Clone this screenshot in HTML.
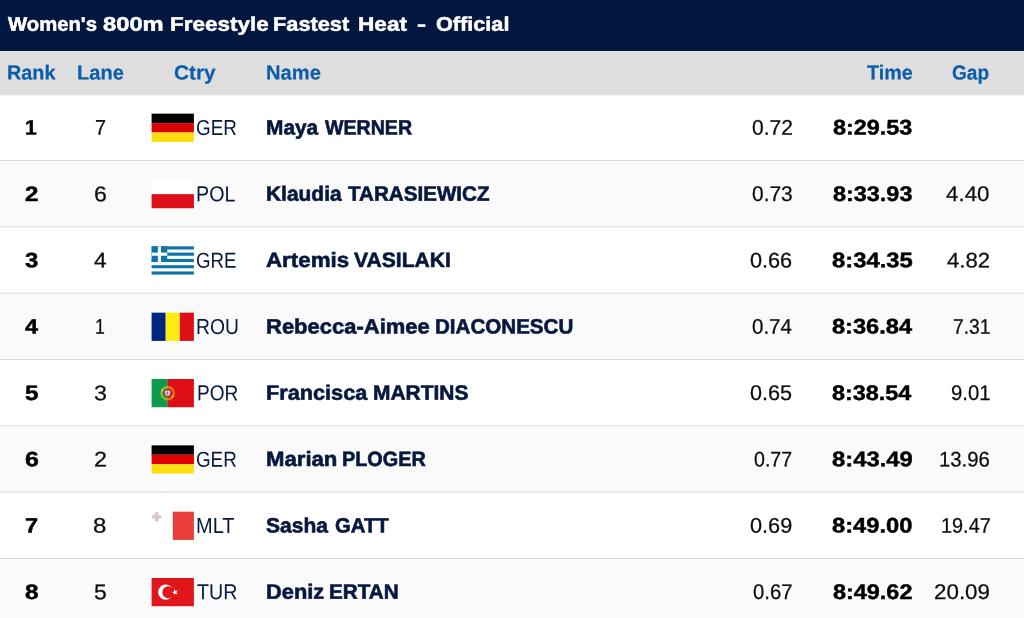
<!DOCTYPE html>
<html lang="en">
<head>
<meta charset="utf-8">
<title>Women's 800m Freestyle Fastest Heat - Official</title>
<style>
html,body{margin:0;padding:0;background:#fff}
body{width:1024px;height:618px;overflow:hidden;position:relative;font-family:"Liberation Sans",Arial,sans-serif}
#bg{position:absolute;left:0;top:0;display:block}
.t{position:absolute;white-space:pre;line-height:1;margin:0;padding:0;transform-origin:0 0}
.f{position:absolute;display:block;overflow:visible}
.b{font-weight:700}
</style>
</head>
<body>
<svg id="bg" width="1024" height="618" viewBox="0 0 1024 618"><rect width="1024" height="618" fill="#fff"/><rect width="1024" height="51.0" fill="#02173f"/><rect y="51.0" width="1024" height="44.40" fill="#dedede"/><rect y="161.00" width="1024" height="66.3333" fill="#fafafa"/><rect y="293.67" width="1024" height="66.3333" fill="#fafafa"/><rect y="426.34" width="1024" height="66.3333" fill="#fafafa"/><rect y="559.00" width="1024" height="66.3333" fill="#fafafa"/><rect y="160.00" width="1024" height="1" fill="#d8d8d8"/><rect y="226.34" width="1024" height="1" fill="#d8d8d8"/><rect y="292.67" width="1024" height="1" fill="#d8d8d8"/><rect y="359.00" width="1024" height="1" fill="#d8d8d8"/><rect y="425.34" width="1024" height="1" fill="#d8d8d8"/><rect y="491.67" width="1024" height="1" fill="#d8d8d8"/><rect y="558.00" width="1024" height="1" fill="#d8d8d8"/><rect y="624.34" width="1024" height="1" fill="#d8d8d8"/><g transform="translate(151.6,113.66)"><rect width="42.3" height="9.417" fill="#000"/><rect y="9.417" width="42.3" height="9.417" fill="#dd0000"/><rect y="18.833" width="42.3" height="9.417" fill="#ffde0f"/></g><g transform="translate(151.6,179.99)"><rect width="42.3" height="14.125" fill="#fff"/><rect y="14.125" width="42.3" height="14.125" fill="#dc0f19"/></g><g transform="translate(151.6,246.33)"><rect width="42.3" height="28.25" fill="#fff"/><rect y="0.000" width="42.3" height="3.139" fill="#0d73a8"/><rect y="6.278" width="42.3" height="3.139" fill="#0d73a8"/><rect y="12.556" width="42.3" height="3.139" fill="#0d73a8"/><rect y="18.833" width="42.3" height="3.139" fill="#0d73a8"/><rect y="25.111" width="42.3" height="3.139" fill="#0d73a8"/><rect width="15.694" height="15.694" fill="#0d73a8"/><rect x="6.278" width="3.139" height="15.694" fill="#fff"/><rect y="6.278" width="15.694" height="3.139" fill="#fff"/></g><g transform="translate(151.6,312.66)"><rect width="14.100" height="28.25" fill="#00267f"/><rect x="14.100" width="14.100" height="28.25" fill="#fcec10"/><rect x="28.200" width="14.100" height="28.25" fill="#de0f17"/></g><g transform="translate(151.6,378.99)"><rect width="16.2" height="28.25" fill="#0f9b4d"/><rect x="16.0" width="26.300" height="28.25" fill="#de0f17"/><circle cx="16.0" cy="14.225" r="6.2" fill="none" stroke="#f0c81e" stroke-opacity="0.55" stroke-width="2.3"/><circle cx="10.80" cy="11.32" r="0.9" fill="#ffe81a"/><circle cx="21.00" cy="17.43" r="0.9" fill="#ffe81a"/><path d="M12.3 10.43h7.4v3.2a3.7 4.3 0 0 1-7.4 0z" fill="#d9252c"/><path d="M13.6 11.72h4.8v2.0a2.4 3.0 0 0 1-4.8 0z" fill="#eef2fa"/><rect x="15.6" y="12.225" width="0.8" height="3.9" fill="#3f6fc2"/><rect x="14.4" y="13.725" width="3.2" height="0.8" fill="#3f6fc2"/></g><g transform="translate(151.6,445.33)"><rect width="42.3" height="9.417" fill="#000"/><rect y="9.417" width="42.3" height="9.417" fill="#dd0000"/><rect y="18.833" width="42.3" height="9.417" fill="#ffde0f"/></g><g transform="translate(151.6,511.66)"><rect x="21.2" width="21.100" height="28.25" fill="#e83e37"/><path d="M3.7 0.9h2.7v2.9h2.9v2.7h-2.9v2.9h-2.7v-2.9h-2.9v-2.7h2.9z" fill="#cfcfcf" stroke="#e7b5b5" stroke-width="0.6"/></g><g transform="translate(151.6,577.99)"><rect width="42.3" height="28.25" fill="#e0161a"/><circle cx="14.1" cy="14.225" r="7.6" fill="#fff"/><circle cx="16.7" cy="14.225" r="5.95" fill="#e0161a"/><polygon points="20.20,14.22 22.45,13.46 22.48,11.09 23.90,12.99 26.17,12.29 24.80,14.22 26.17,16.16 23.90,15.46 22.48,17.36 22.45,14.99" fill="#fff"/></g></svg>
<div id="t1" class="t b" style="left:8.35px;top:14px;font-size:19.82px;color:#fff;-webkit-text-stroke:0.5px #fff;transform:translateY(0.75px) matrix(1.0230,0.0005,0,1,0,0)">Women's</div>
<div id="t2" class="t b" style="left:102.86px;top:14px;font-size:19.82px;color:#fff;-webkit-text-stroke:0.5px #fff;transform:translateY(0.75px) matrix(1.1978,0.0005,0,1,0,0)">800m</div>
<div id="t3" class="t b" style="left:169.80px;top:14px;font-size:19.82px;color:#fff;-webkit-text-stroke:0.5px #fff;transform:translateY(0.75px) matrix(1.1334,0.0005,0,1,0,0)">Freestyle</div>
<div id="t4" class="t b" style="left:272.93px;top:14px;font-size:19.82px;color:#fff;-webkit-text-stroke:0.5px #fff;transform:translateY(0.75px) matrix(1.0984,0.0005,0,1,0,0)">Fastest</div>
<div id="t5" class="t b" style="left:357.67px;top:14px;font-size:19.82px;color:#fff;-webkit-text-stroke:0.5px #fff;transform:translateY(0.75px) matrix(1.1413,0.0005,0,1,0,0)">Heat</div>
<div id="t6" class="t b" style="left:417.44px;top:14px;font-size:19.82px;color:#fff;-webkit-text-stroke:0.5px #fff;transform:translateY(0.75px) matrix(1.3735,0.0005,0,1,0,0)">-</div>
<div id="t7" class="t b" style="left:435.75px;top:14px;font-size:19.82px;color:#fff;-webkit-text-stroke:0.5px #fff;transform:translateY(0.75px) matrix(1.0932,0.0005,0,1,0,0)">Official</div>
<div id="h1" class="t b" style="left:7.25px;top:62px;font-size:20.29px;color:#0b5cab;-webkit-text-stroke:0.2px #0b5cab;transform:translateY(0.58px) matrix(0.9766,0.0005,0,1,0,0)">Rank</div>
<div id="h2" class="t b" style="left:76.56px;top:62px;font-size:20.29px;color:#0b5cab;-webkit-text-stroke:0.2px #0b5cab;transform:translateY(0.58px) matrix(0.9884,0.0005,0,1,0,0)">Lane</div>
<div id="h3" class="t b" style="left:174.26px;top:62px;font-size:20.29px;color:#0b5cab;-webkit-text-stroke:0.2px #0b5cab;transform:translateY(0.58px) matrix(1.0267,0.0005,0,1,0,0)">Ctry</div>
<div id="h4" class="t b" style="left:266.19px;top:62px;font-size:20.29px;color:#0b5cab;-webkit-text-stroke:0.2px #0b5cab;transform:translateY(0.58px) matrix(0.9932,0.0005,0,1,0,0)">Name</div>
<div id="h5" class="t b" style="left:866.67px;top:62px;font-size:20.29px;color:#0b5cab;-webkit-text-stroke:0.2px #0b5cab;transform:translateY(0.58px) matrix(0.9743,0.0005,0,1,0,0)">Time</div>
<div id="h6" class="t b" style="left:952.08px;top:62px;font-size:20.29px;color:#0b5cab;-webkit-text-stroke:0.2px #0b5cab;transform:translateY(0.58px) matrix(0.9400,0.0005,0,1,0,0)">Gap</div>
<div id="r1k" class="t b" style="left:25.27px;top:117px;font-size:20.88px;color:#000;-webkit-text-stroke:0.45px #000;transform:translateY(0.55px) matrix(1.0077,0.0005,0,1,0,0)">1</div>
<div id="r1l" class="t" style="left:94.82px;top:117px;font-size:21.3px;color:#0d0d0d;-webkit-text-stroke:0.25px #0d0d0d;transform:translateY(0.87px) matrix(0.9273,0.0005,0,1,0,0)">7</div>
<div id="r1c" class="t" style="left:195.88px;top:117px;font-size:21.65px;color:#06183f;transform:translateY(0.03px) matrix(0.8692,0.0005,0,1,0,0)">GER</div>
<div id="r1n1" class="t b" style="left:265.58px;top:117px;font-size:20.73px;color:#06183f;-webkit-text-stroke:0.6px #06183f;transform:translateY(0.38px) matrix(1.0071,0.0005,0,1,0,0)">Maya</div>
<div id="r1n2" class="t b" style="left:325.31px;top:117px;font-size:20.73px;color:#06183f;-webkit-text-stroke:0.6px #06183f;transform:translateY(0.38px) matrix(0.9459,0.0005,0,1,0,0)">WERNER</div>
<div id="r1r" class="t" style="left:752.22px;top:117px;font-size:21.27px;color:#0d0d0d;-webkit-text-stroke:0.25px #0d0d0d;transform:translateY(0.77px) matrix(0.9869,0.0005,0,1,0,0)">0.72</div>
<div id="r1t" class="t b" style="left:833.00px;top:116px;font-size:21.05px;color:#000;-webkit-text-stroke:0.45px #000;transform:translateY(0.58px) matrix(1.1120,0.0005,0,1,0,0)">8:29.53</div>
<div id="r2k" class="t b" style="left:24.79px;top:183px;font-size:20.88px;color:#000;-webkit-text-stroke:0.45px #000;transform:translateY(0.89px) matrix(1.1513,0.0005,0,1,0,0)">2</div>
<div id="r2l" class="t" style="left:94.04px;top:184px;font-size:21.3px;color:#0d0d0d;-webkit-text-stroke:0.25px #0d0d0d;transform:translateY(0.20px) matrix(1.0830,0.0005,0,1,0,0)">6</div>
<div id="r2c" class="t" style="left:196.18px;top:183px;font-size:21.65px;color:#06183f;transform:translateY(0.36px) matrix(0.9104,0.0005,0,1,0,0)">POL</div>
<div id="r2n1" class="t b" style="left:265.75px;top:183px;font-size:20.73px;color:#06183f;-webkit-text-stroke:0.6px #06183f;transform:translateY(0.71px) matrix(1.0102,0.0005,0,1,0,0)">Klaudia</div>
<div id="r2n2" class="t b" style="left:347.95px;top:183px;font-size:20.73px;color:#06183f;-webkit-text-stroke:0.6px #06183f;transform:translateY(0.71px) matrix(0.9944,0.0005,0,1,0,0)">TARASIEWICZ</div>
<div id="r2r" class="t" style="left:752.35px;top:184px;font-size:21.27px;color:#0d0d0d;-webkit-text-stroke:0.25px #0d0d0d;transform:translateY(0.10px) matrix(0.9844,0.0005,0,1,0,0)">0.73</div>
<div id="r2t" class="t b" style="left:833.00px;top:182px;font-size:21.05px;color:#000;-webkit-text-stroke:0.45px #000;transform:translateY(0.91px) matrix(1.1124,0.0005,0,1,0,0)">8:33.93</div>
<div id="r2g" class="t" style="left:946.08px;top:183px;font-size:21.21px;color:#0d0d0d;-webkit-text-stroke:0.25px #0d0d0d;transform:translateY(0.09px) matrix(1.0540,0.0005,0,1,0,0)">4.40</div>
<div id="r3k" class="t b" style="left:24.97px;top:250px;font-size:20.88px;color:#000;-webkit-text-stroke:0.45px #000;transform:translateY(0.22px) matrix(1.1476,0.0005,0,1,0,0)">3</div>
<div id="r3l" class="t" style="left:93.92px;top:250px;font-size:21.3px;color:#0d0d0d;-webkit-text-stroke:0.25px #0d0d0d;transform:translateY(0.53px) matrix(1.0661,0.0005,0,1,0,0)">4</div>
<div id="r3c" class="t" style="left:195.89px;top:249px;font-size:21.65px;color:#06183f;transform:translateY(0.70px) matrix(0.8622,0.0005,0,1,0,0)">GRE</div>
<div id="r3n1" class="t b" style="left:265.89px;top:250px;font-size:20.73px;color:#06183f;-webkit-text-stroke:0.6px #06183f;transform:translateY(0.05px) matrix(1.0768,0.0005,0,1,0,0)">Artemis</div>
<div id="r3n2" class="t b" style="left:353.70px;top:250px;font-size:20.73px;color:#06183f;-webkit-text-stroke:0.6px #06183f;transform:translateY(0.05px) matrix(1.0190,0.0005,0,1,0,0)">VASILAKI</div>
<div id="r3r" class="t" style="left:750.16px;top:250px;font-size:21.27px;color:#0d0d0d;-webkit-text-stroke:0.25px #0d0d0d;transform:translateY(0.44px) matrix(1.0188,0.0005,0,1,0,0)">0.66</div>
<div id="r3t" class="t b" style="left:831.74px;top:249px;font-size:21.05px;color:#000;-webkit-text-stroke:0.45px #000;transform:translateY(0.24px) matrix(1.1331,0.0005,0,1,0,0)">8:34.35</div>
<div id="r3g" class="t" style="left:946.69px;top:249px;font-size:21.21px;color:#0d0d0d;-webkit-text-stroke:0.25px #0d0d0d;transform:translateY(0.42px) matrix(1.0438,0.0005,0,1,0,0)">4.82</div>
<div id="r4k" class="t b" style="left:25.06px;top:316px;font-size:20.88px;color:#000;-webkit-text-stroke:0.45px #000;transform:translateY(0.55px) matrix(1.1245,0.0005,0,1,0,0)">4</div>
<div id="r4l" class="t" style="left:95.27px;top:316px;font-size:21.3px;color:#0d0d0d;-webkit-text-stroke:0.25px #0d0d0d;transform:translateY(0.87px) matrix(0.8334,0.0005,0,1,0,0)">1</div>
<div id="r4c" class="t" style="left:195.84px;top:316px;font-size:21.65px;color:#06183f;transform:translateY(0.03px) matrix(0.8909,0.0005,0,1,0,0)">ROU</div>
<div id="r4n1" class="t b" style="left:266.08px;top:316px;font-size:20.73px;color:#06183f;-webkit-text-stroke:0.6px #06183f;transform:translateY(0.38px) matrix(1.0610,0.0005,0,1,0,0)">Rebecca-Aimee</div>
<div id="r4n2" class="t b" style="left:435.29px;top:316px;font-size:20.73px;color:#06183f;-webkit-text-stroke:0.6px #06183f;transform:translateY(0.38px) matrix(0.9928,0.0005,0,1,0,0)">DIACONESCU</div>
<div id="r4r" class="t" style="left:751.92px;top:316px;font-size:21.27px;color:#0d0d0d;-webkit-text-stroke:0.25px #0d0d0d;transform:translateY(0.77px) matrix(0.9628,0.0005,0,1,0,0)">0.74</div>
<div id="r4t" class="t b" style="left:831.63px;top:315px;font-size:21.05px;color:#000;-webkit-text-stroke:0.45px #000;transform:translateY(0.58px) matrix(1.1208,0.0005,0,1,0,0)">8:36.84</div>
<div id="r4g" class="t" style="left:953.10px;top:315px;font-size:21.21px;color:#0d0d0d;-webkit-text-stroke:0.25px #0d0d0d;transform:translateY(0.75px) matrix(0.9068,0.0005,0,1,0,0)">7.31</div>
<div id="r5k" class="t b" style="left:24.84px;top:382px;font-size:20.88px;color:#000;-webkit-text-stroke:0.45px #000;transform:translateY(0.88px) matrix(1.1628,0.0005,0,1,0,0)">5</div>
<div id="r5l" class="t" style="left:93.51px;top:383px;font-size:21.3px;color:#0d0d0d;-webkit-text-stroke:0.25px #0d0d0d;transform:translateY(0.20px) matrix(1.0920,0.0005,0,1,0,0)">3</div>
<div id="r5c" class="t" style="left:196.50px;top:382px;font-size:21.65px;color:#06183f;transform:translateY(0.36px) matrix(0.8810,0.0005,0,1,0,0)">POR</div>
<div id="r5n1" class="t b" style="left:265.70px;top:382px;font-size:20.73px;color:#06183f;-webkit-text-stroke:0.6px #06183f;transform:translateY(0.71px) matrix(1.0466,0.0005,0,1,0,0)">Francisca</div>
<div id="r5n2" class="t b" style="left:372.95px;top:382px;font-size:20.73px;color:#06183f;-webkit-text-stroke:0.6px #06183f;transform:translateY(0.71px) matrix(1.0103,0.0005,0,1,0,0)">MARTINS</div>
<div id="r5r" class="t" style="left:750.22px;top:383px;font-size:21.27px;color:#0d0d0d;-webkit-text-stroke:0.25px #0d0d0d;transform:translateY(0.10px) matrix(1.0155,0.0005,0,1,0,0)">0.65</div>
<div id="r5t" class="t b" style="left:831.63px;top:381px;font-size:21.05px;color:#000;-webkit-text-stroke:0.45px #000;transform:translateY(0.91px) matrix(1.1108,0.0005,0,1,0,0)">8:38.54</div>
<div id="r5g" class="t" style="left:950.59px;top:382px;font-size:21.21px;color:#0d0d0d;-webkit-text-stroke:0.25px #0d0d0d;transform:translateY(0.09px) matrix(0.9596,0.0005,0,1,0,0)">9.01</div>
<div id="r6k" class="t b" style="left:24.60px;top:449px;font-size:20.88px;color:#000;-webkit-text-stroke:0.45px #000;transform:translateY(0.22px) matrix(1.1911,0.0005,0,1,0,0)">6</div>
<div id="r6l" class="t" style="left:93.75px;top:449px;font-size:21.3px;color:#0d0d0d;-webkit-text-stroke:0.25px #0d0d0d;transform:translateY(0.53px) matrix(1.0970,0.0005,0,1,0,0)">2</div>
<div id="r6c" class="t" style="left:195.89px;top:448px;font-size:21.65px;color:#06183f;transform:translateY(0.70px) matrix(0.8678,0.0005,0,1,0,0)">GER</div>
<div id="r6n1" class="t b" style="left:265.59px;top:449px;font-size:20.73px;color:#06183f;-webkit-text-stroke:0.6px #06183f;transform:translateY(0.05px) matrix(1.0690,0.0005,0,1,0,0)">Marian</div>
<div id="r6n2" class="t b" style="left:341.88px;top:449px;font-size:20.73px;color:#06183f;-webkit-text-stroke:0.6px #06183f;transform:translateY(0.05px) matrix(0.9573,0.0005,0,1,0,0)">PLOGER</div>
<div id="r6r" class="t" style="left:754.23px;top:449px;font-size:21.27px;color:#0d0d0d;-webkit-text-stroke:0.25px #0d0d0d;transform:translateY(0.44px) matrix(0.9196,0.0005,0,1,0,0)">0.77</div>
<div id="r6t" class="t b" style="left:831.58px;top:448px;font-size:21.05px;color:#000;-webkit-text-stroke:0.45px #000;transform:translateY(0.24px) matrix(1.1321,0.0005,0,1,0,0)">8:43.49</div>
<div id="r6g" class="t" style="left:938.71px;top:448px;font-size:21.21px;color:#0d0d0d;-webkit-text-stroke:0.25px #0d0d0d;transform:translateY(0.42px) matrix(0.9579,0.0005,0,1,0,0)">13.96</div>
<div id="r7k" class="t b" style="left:24.62px;top:515px;font-size:20.88px;color:#000;-webkit-text-stroke:0.45px #000;transform:translateY(0.55px) matrix(1.1259,0.0005,0,1,0,0)">7</div>
<div id="r7l" class="t" style="left:93.06px;top:515px;font-size:21.3px;color:#0d0d0d;-webkit-text-stroke:0.25px #0d0d0d;transform:translateY(0.87px) matrix(1.1274,0.0005,0,1,0,0)">8</div>
<div id="r7c" class="t" style="left:196.15px;top:515px;font-size:21.65px;color:#06183f;transform:translateY(0.03px) matrix(0.9231,0.0005,0,1,0,0)">MLT</div>
<div id="r7n1" class="t b" style="left:265.88px;top:515px;font-size:20.73px;color:#06183f;-webkit-text-stroke:0.6px #06183f;transform:translateY(0.38px) matrix(1.0155,0.0005,0,1,0,0)">Sasha</div>
<div id="r7n2" class="t b" style="left:334.58px;top:515px;font-size:20.73px;color:#06183f;-webkit-text-stroke:0.6px #06183f;transform:translateY(0.38px) matrix(0.9802,0.0005,0,1,0,0)">GATT</div>
<div id="r7r" class="t" style="left:750.23px;top:515px;font-size:21.27px;color:#0d0d0d;-webkit-text-stroke:0.25px #0d0d0d;transform:translateY(0.77px) matrix(1.0192,0.0005,0,1,0,0)">0.69</div>
<div id="r7t" class="t b" style="left:831.78px;top:514px;font-size:21.05px;color:#000;-webkit-text-stroke:0.45px #000;transform:translateY(0.58px) matrix(1.1267,0.0005,0,1,0,0)">8:49.00</div>
<div id="r7g" class="t" style="left:941.01px;top:514px;font-size:21.21px;color:#0d0d0d;-webkit-text-stroke:0.25px #0d0d0d;transform:translateY(0.75px) matrix(0.9374,0.0005,0,1,0,0)">19.47</div>
<div id="r8k" class="t b" style="left:24.51px;top:581px;font-size:20.88px;color:#000;-webkit-text-stroke:0.45px #000;transform:translateY(0.88px) matrix(1.1657,0.0005,0,1,0,0)">8</div>
<div id="r8l" class="t" style="left:93.50px;top:582px;font-size:21.3px;color:#0d0d0d;-webkit-text-stroke:0.25px #0d0d0d;transform:translateY(0.20px) matrix(1.0774,0.0005,0,1,0,0)">5</div>
<div id="r8c" class="t" style="left:196.72px;top:581px;font-size:21.65px;color:#06183f;transform:translateY(0.36px) matrix(0.9076,0.0005,0,1,0,0)">TUR</div>
<div id="r8n1" class="t b" style="left:265.82px;top:581px;font-size:20.73px;color:#06183f;-webkit-text-stroke:0.6px #06183f;transform:translateY(0.71px) matrix(1.0546,0.0005,0,1,0,0)">Deniz</div>
<div id="r8n2" class="t b" style="left:329.48px;top:581px;font-size:20.73px;color:#06183f;-webkit-text-stroke:0.6px #06183f;transform:translateY(0.71px) matrix(0.9977,0.0005,0,1,0,0)">ERTAN</div>
<div id="r8r" class="t" style="left:753.09px;top:582px;font-size:21.27px;color:#0d0d0d;-webkit-text-stroke:0.25px #0d0d0d;transform:translateY(0.10px) matrix(0.9542,0.0005,0,1,0,0)">0.67</div>
<div id="r8t" class="t b" style="left:833.01px;top:580px;font-size:21.05px;color:#000;-webkit-text-stroke:0.45px #000;transform:translateY(0.91px) matrix(1.1124,0.0005,0,1,0,0)">8:49.62</div>
<div id="r8g" class="t" style="left:933.57px;top:581px;font-size:21.21px;color:#0d0d0d;-webkit-text-stroke:0.25px #0d0d0d;transform:translateY(0.09px) matrix(1.0556,0.0005,0,1,0,0)">20.09</div>
</body>
</html>
